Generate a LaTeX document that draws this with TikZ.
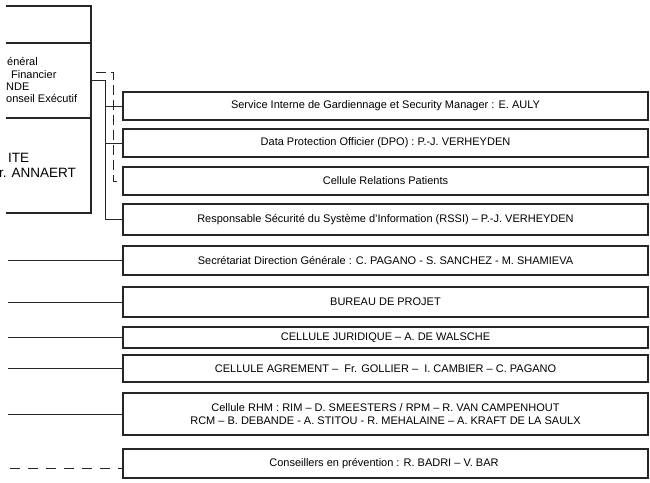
\documentclass[tikz,border=0pt]{standalone}
\usepackage{fontspec}
\setmainfont{Liberation Sans}
\begin{document}
\begin{tikzpicture}[x=1pt,y=-1pt,
		rahmen/.style={draw=black!85, line width=1.1pt, inner sep=0pt},
		box/.style={rahmen, minimum width=525pt, align=center, font=\fontsize{11}{12.5}\selectfont},
		linie/.style={draw=black!85, line width=1pt},
		strichlinie/.style={linie, dash pattern=on 10pt off 5pt}
	]
		\useasboundingbox (0,0) rectangle (650,482);
		
		% Linke Kaesten (abgeschnitten)
		\begin{scope}
			\clip (6,0) rectangle (650,482);
			\node[rahmen, minimum width=150pt, minimum height=37pt] (leitung) at (16,24.5) {};
			\node[rahmen, minimum width=150pt, minimum height=75pt] (dg) at (16,80.5) {};
			\node[rahmen, minimum width=150pt, minimum height=95pt] (pres) at (16,165.5) {};
		\end{scope}
		
		% Texte links
		\foreach \n/\x/\y/\t in {l1/7/62/énéral, l2/11/74.5/Financier, l3/6/86.5/NDE, l4/6/99/onseil Exécutif} {
			\node[anchor=west, inner sep=0pt, font=\fontsize{11}{12}\selectfont] (\n) at (\x,\y) {\t};
		}
		\node[anchor=west, inner sep=0pt, font=\fontsize{13.5}{15}\selectfont] (l5) at (8,158) {ITE};
		\node[anchor=west, inner sep=0pt, font=\fontsize{13.5}{15}\selectfont] (l6) at (-1,173) {r. ANNAERT};
		
		% Kaesten rechts
		\foreach \name/\y/\h/\txt in {
			sigm/106/28/{Service Interne de Gardiennage et Security Manager : E. AULY},
			dpo/143/28/{Data Protection Officier (DPO) : P.-J. VERHEYDEN},
			crp/181/28/{Cellule Relations Patients},
			rssi/219.5/31/{Responsable Sécurité du Système d’Information (RSSI) – P.-J. VERHEYDEN},
			secr/260.5/29/{Secrétariat Direction Générale : C. PAGANO - S. SANCHEZ - M. SHAMIEVA},
			bureau/302/30/{BUREAU DE PROJET},
			jur/337.5/21/{CELLULE JURIDIQUE – A. DE WALSCHE},
			agr/368.5/27/{CELLULE AGREMENT –\ \ Fr. GOLLIER –\ \ I. CAMBIER – C. PAGANO},
			rhm/414/42/{Cellule RHM : RIM – D. SMEESTERS / RPM – R. VAN CAMPENHOUT\\RCM – B. DEBANDE - A. STITOU - R. MEHALAINE – A. KRAFT DE LA SAULX},
			cons/463.5/29/{Conseillers en prévention : R. BADRI – V. BAR}
		} {
			\node[box, minimum height=\h pt] (\name) at (385.5,\y) {\txt};
		}
		
		% Verbindungen
		\coordinate (bus) at (105,0);
		\coordinate (strich) at (113,0);
		\coordinate (links) at (8,0);
		\coordinate (cfrei) at (10,468);
		\draw[linie] (dg.east) -- (dg.east -| bus) -- (bus |- rssi.west) -- (rssi.west);
		\foreach \n in {sigm,dpo} {
			\draw[linie] (bus |- \n.west) -- (\n.west);
		}
		\draw[strichlinie, dash phase=11pt] ([yshift=8.5pt]dg.east) -| (strich |- crp.west) -- (crp.west);
		\foreach \n in {secr,bureau,jur,agr,rhm} {
			\draw[linie] (links |- \n.west) -- (\n.west);
		}
		\draw[linie, dash pattern=on 10pt off 8pt] (cfrei) -- (cfrei -| cons.west);
	\end{tikzpicture}
\end{document}
